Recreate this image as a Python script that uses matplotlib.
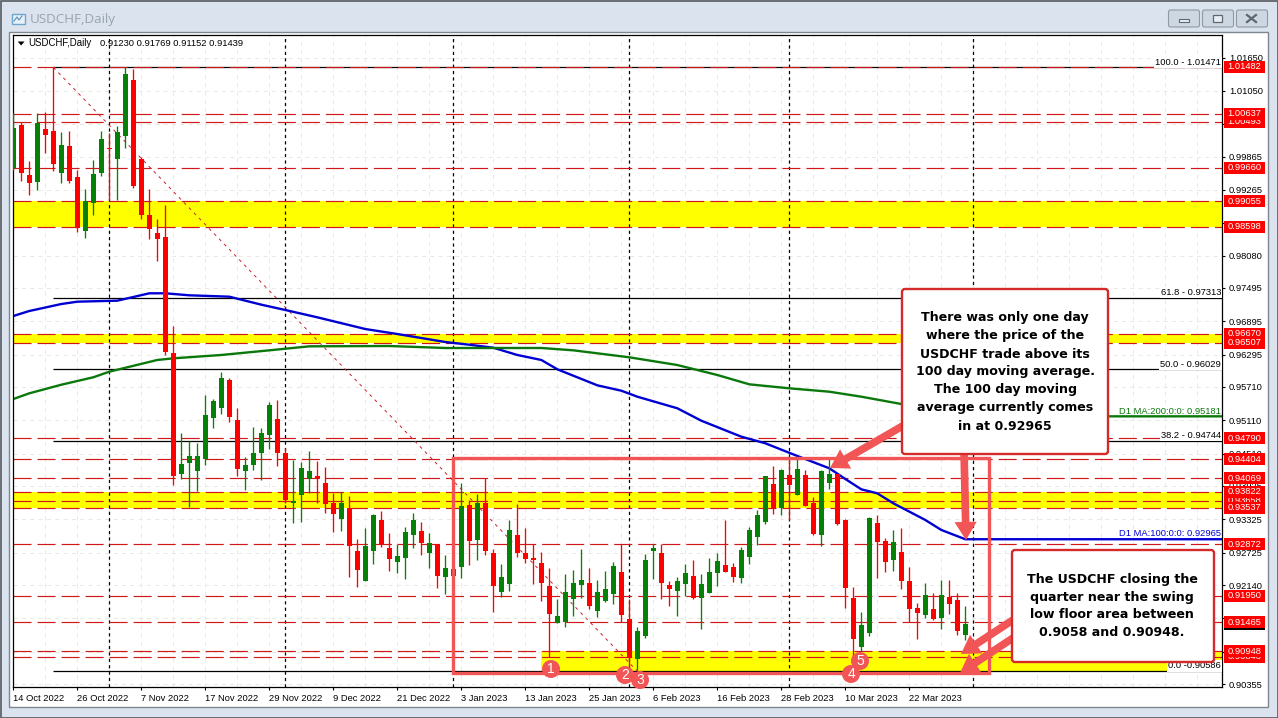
import matplotlib
matplotlib.use("Agg")
import numpy as np
import matplotlib.pyplot as plt
from matplotlib.patches import Rectangle, FancyBboxPatch, FancyArrowPatch, Circle, Polygon

plt.rcParams["font.family"] = "Liberation Sans"
plt.rcParams["lines.scale_dashes"] = False

# candles, prices in points (1e-5)
opens = [99658,100433,99532,99406,100361,100325,99568,100055,99496,98522,99027,99568,100019,99820,100235,101245,99820,98811,98486,98414,
         96323,94141,94340,94195,94412,95151,95331,95836,95115,94195,94304,94520,94844,95133,94520,93618,93763,94051,94105,93979,
         93618,93330,93528,92753,92212,92753,93312,92807,92555,92627,93041,93114,92717,92879,92284,92302,92465,93582,92951,93618,
         92717,92014,92158,93041,92717,92627,92537,92122,91455,91473,91888,92140,92176,91671,91852,91978,92374,91527,90806,91221,
         92753,92717,92140,92032,92158,92302,91906,91996,92356,92501,92465,92266,92645,93005,93276,93961,93528,94123,93763,94123,
         93618,93041,93979,94141,93312,91906,91022,91275,93258,92933,92591,92735,92212,91725,91599,91707,91545,91924,91870,91230]
highs = [100650,100487,99784,100650,100668,101479,100307,100325,99622,99280,99802,100325,100289,100415,101479,101443,99856,99280,98739,98991,
         96810,94880,94736,94700,95566,95493,95980,95872,95331,94448,94989,94971,95439,95475,94610,94394,94358,94556,94376,94267,
         93799,93817,93745,92969,93168,93420,93474,93078,92879,93186,93438,93276,93078,92879,92681,92447,93979,93672,93781,94069,
         92789,92519,93312,93600,93168,92879,92735,92447,91888,92338,92410,92789,92447,92230,92392,92555,92879,91888,91383,92699,
         92879,92879,92212,92284,92519,92591,92338,92627,92717,93312,92537,92825,93186,93492,94105,94286,94231,94412,94448,94213,
         93727,94213,94412,94141,93330,92104,91653,93366,93402,92987,93132,93168,92465,91816,92176,91996,92230,92230,91996,91769]
lows = [99622,99424,99171,99261,99929,99604,99388,99388,98504,98396,98811,99514,99081,99081,100019,99298,98739,98378,97981,96287,
        93943,94051,93546,93835,94304,94971,95223,95079,94105,93853,94213,94033,94592,94286,93618,93258,93276,93799,93618,93438,
        93096,93114,92284,92104,92212,92519,92825,92392,92356,92248,92807,92681,92447,92086,91978,92302,92266,92501,92591,92681,
        91653,91924,92032,92645,92537,92158,91852,90842,91455,91383,91581,91906,91707,91563,91834,91798,91473,90662,90608,91184,
        92248,91888,91761,91581,91942,91888,91347,91996,92122,92374,92194,92176,92519,92861,93240,93420,93402,93312,93763,93564,
        93041,92843,93871,93222,91725,90842,90950,91221,92266,92374,92392,92068,91473,91166,91545,91509,91347,91617,91239,91152]
closes = [100379,99568,99388,100469,100253,99730,100073,99424,98576,99063,99550,100181,100001,100307,101353,99334,98811,98558,98378,96341,
          94105,94322,94466,94466,95205,95457,95872,95169,94231,94304,94520,94880,95385,94520,93672,93654,94249,94195,94069,93600,
          93420,93618,92843,92410,92843,93402,92879,92609,92663,93096,93312,92897,92897,92302,92447,92429,93564,92933,93618,92753,
          92122,92284,93132,92717,92609,92591,92176,91617,91581,92014,92176,92230,91761,92014,92068,92483,91599,90824,91311,92591,
          92807,92176,92068,92212,92356,91906,92158,92374,92573,92374,92284,92771,93132,93402,94105,93528,94213,93943,94231,93564,
          93059,94195,94141,93240,92086,91166,91419,93348,92915,92555,92915,92212,91707,91635,91960,91527,91960,91798,91311,91439]

ma100_bars = [0,2,6,8,13,17,19,22,27,31,34,38,44,48,54,57,60,63,66,68,73,76,78,83,86,91,94,98,102,104,106,108,110,114,116,119]
ma100_vals = [96990,97080,97206,97248,97266,97399,97399,97363,97338,97194,97098,96966,96755,96665,96521,96472,96418,96287,96197,96029,
              95740,95643,95535,95326,95102,94814,94695,94466,94244,94051,93865,93793,93613,93312,93132,92965]
ma200_bars = [0,2,6,10,12,18,20,26,32,37,47,54,66,70,77,83,88,92,97,102,106,111,119]
ma200_vals = [95493,95596,95751,95885,95986,96197,96227,96287,96371,96443,96449,96413,96413,96371,96245,96106,95926,95758,95686,95625,95535,95403,95181]

levels = [1.01482,1.00493,1.00637,0.99660,0.99055,0.98598,0.96670,0.96507,0.94790,0.94404,0.94069,0.93658,0.93822,0.93537,
          0.92872,0.91950,0.91465,0.90846,0.90948]
bands = [(0.98598,0.99055,0),(0.96507,0.96670,0),(0.93537,0.93822,0),(0.90586,0.90948,66)]
fib_prices = [1.01471,0.97313,0.96029,0.94744,0.90586]
fib_labels = ["100.0 - 1.01471","61.8 - 0.97313","50.0 - 0.96029","38.2 - 0.94744","0.0 -0.90586"]
y_ticks = [1.01650,1.01050,1.00450,0.99865,0.99265,0.98665,0.98080,0.97495,0.96895,0.96295,0.95710,0.95110,0.94510,0.93925,0.93325,
           0.92725,0.92140,0.91540,0.90940,0.90355]
date_labels = ["14 Oct 2022","26 Oct 2022","7 Nov 2022","17 Nov 2022","29 Nov 2022","9 Dec 2022","21 Dec 2022","3 Jan 2023",
               "13 Jan 2023","25 Jan 2023","6 Feb 2023","16 Feb 2023","28 Feb 2023","10 Mar 2023","22 Mar 2023"]
month_bars = [12,34,55,77,97,120]

o = np.array(opens) / 1e5
h = np.array(highs) / 1e5
l = np.array(lows) / 1e5
c = np.array(closes) / 1e5
x = np.arange(len(o))

RED = "#ff0000"
GREEN = "#068006"
DASHRED = "#d01818"
SALMON = "#f25555"
BOXRED = "#d42a2a"
FS = 6.75

fig = plt.figure(figsize=(12.78, 7.18), dpi=100)
fig.patch.set_facecolor("white")

# window frame drawn in pixel coordinates
bg = fig.add_axes([0, 0, 1, 1], zorder=0)
bg.set_xlim(0, 1278)
bg.set_ylim(718, 0)
bg.axis("off")
bg.add_patch(Rectangle((0, 0), 1278, 718, fc="#dbe4ee", ec="none"))
grad = np.linspace(0, 1, 32).reshape(-1, 1)
bg.imshow(grad, extent=(0, 1278, 33, 0), cmap=matplotlib.colors.LinearSegmentedColormap.from_list("t", ["#c8d4e0", "#e4ebf3"]), aspect="auto")
bg.set_xlim(0, 1278)
bg.set_ylim(718, 0)
bg.add_patch(Rectangle((8.5, 32), 1259, 675, fc="white", ec="#7e8790", lw=1))
bg.add_patch(Rectangle((0.5, 0.5), 1277, 717, fc="none", ec="#555b60", lw=1.2))
bg.add_patch(Rectangle((11.5, 14), 13, 10, fc="#e8f0f8", ec="#6fa4cc", lw=1))
bg.plot([14, 17, 19, 22], [21, 17, 20, 16], color="#5a8fb8", lw=0.8)
bg.text(30, 20, "USDCHF,Daily", fontsize=9.6, family="Open Sans", color="#98a4b0", va="center")
for left in [1168.5, 1202.5, 1236.5]:
    bg.add_patch(FancyBboxPatch((left + 2, 12), 27, 13, boxstyle="round,pad=2", fc="#ccd7e2", ec="#8f9aa5", lw=0.8))
bg.add_patch(Rectangle((1179, 19), 10, 3, fc="#e8eef4", ec="#5d6770", lw=0.8))
bg.add_patch(Rectangle((1212.5, 15), 9, 7, fc="#e8eef4", ec="#5d6770", lw=0.9))
bg.plot([1247, 1256], [15, 22], color="#5d6770", lw=1.6)
bg.plot([1247, 1256], [22, 15], color="#5d6770", lw=1.6)

ax = fig.add_axes([12.5 / 1278, 1 - 687 / 718, 1209.5 / 1278, 652 / 718], zorder=1)
ax.set_xlim((12.5 - 13.33) / 8, (1222 - 13.33) / 8)
ax.set_ylim(1.02687 - 0.00018029 * 687, 1.02687 - 0.00018029 * 35)
for s in ax.spines.values():
    s.set_linewidth(0.9)

ax.set_yticks(y_ticks)
ax.set_yticklabels(["%.5f" % t for t in y_ticks])
ax.yaxis.tick_right()
ax.tick_params(axis="y", length=2.4, width=0.8, pad=2.5, labelsize=FS)
ax.set_xticks(np.arange(0, 120, 8))
ax.set_xticklabels(date_labels, ha="left")
ax.set_xticks(np.arange(0, 152, 4), minor=True)
ax.tick_params(axis="x", which="major", length=2.4, width=0.8, pad=2.5, labelsize=FS)
ax.tick_params(axis="x", which="minor", length=0)
ax.grid(True, which="both", color="#e9e9e4", lw=0.7, ls=(0, (3, 3)))
ax.set_axisbelow(True)

for low, top_p, start in bands:
    ax.add_patch(Rectangle((start, low), 160, top_p - low, fc="#ffff00", ec="none", zorder=1))
for m in month_bars:
    ax.axvline(m, color="black", lw=0.9, ls=(0, (2.3, 2.3)), zorder=1.5)
for p in fib_prices:
    ax.hlines(p, 5, 160, color="black", lw=0.9, zorder=1.8)
for lv in levels:
    ax.axhline(lv, color=DASHRED, lw=0.85, ls=(0, (13, 4.3)), zorder=2)
ax.plot([5, 78], [fib_prices[0], fib_prices[-1]], color="#c8202a", lw=0.7, ls=(0, (2.2, 3)), zorder=2.2)

ax.plot(ma100_bars + [160], [v / 1e5 for v in ma100_vals] + [ma100_vals[-1] / 1e5], color="#0000d2", lw=1.7, zorder=2.5)
ax.plot(ma200_bars + [160], [v / 1e5 for v in ma200_vals] + [ma200_vals[-1] / 1e5], color="#0b780b", lw=1.7, zorder=2.5)

up = c >= o
colors = np.where(up, GREEN, RED)
ax.vlines(x, l, h, colors=colors, lw=0.95, zorder=3)
ax.bar(x, np.abs(c - o), bottom=np.minimum(o, c), width=5 / 8, color=colors, lw=0, zorder=3.1)

trans = ax.get_yaxis_transform()
ax.text(0.0132, 1.02687 - 0.00018029 * 43.5, "USDCHF,Daily", transform=trans, fontsize=FS + 0.15, va="center", zorder=5)
ax.text(0.0720, 1.02687 - 0.00018029 * 43.5, "0.91230 0.91769 0.91152 0.91439", transform=trans, fontsize=FS, va="center", zorder=5)
ax.add_patch(Polygon([(0.0043, 1.02687 - 0.00018029 * 41.5), (0.0100, 1.02687 - 0.00018029 * 41.5), (0.0071, 1.02687 - 0.00018029 * 45.5)],
                     transform=trans, fc="black", ec="none", zorder=5))

# labels for fib and MA lines
for p, lab in zip(fib_prices, fib_labels):
    ax.text(0.9992, p + 0.00095, lab, transform=trans, fontsize=FS, ha="right", va="center", zorder=4,
            bbox=dict(fc="white", ec="none", pad=0.8))
ax.text(0.9992, ma100_vals[-1] / 1e5 + 0.00095, "D1 MA:100:0:0: 0.92965", transform=trans, fontsize=FS, color="#0000d2", ha="right", va="center", zorder=4)
ax.text(0.9992, ma200_vals[-1] / 1e5 + 0.00095, "D1 MA:200:0:0: 0.95181", transform=trans, fontsize=FS, color="#0b780b", ha="right", va="center", zorder=4)

# price labels on the right
def price_box(price, face):
    ax.add_patch(Rectangle((1.0018, price - 0.00108), 0.0338, 0.00216, transform=trans, fc=face, ec="none", clip_on=False, zorder=6))
    ax.text(1.0187, price, "%.5f" % price, transform=trans, fontsize=FS, color="white", ha="center", va="center", clip_on=False, zorder=6)

price_box(closes[-1] / 1e5, "black")
for lv in levels:
    price_box(lv, RED)

# marker drawing on top of the chart
top = fig.add_axes([0, 0, 1, 1], zorder=2)
top.set_xlim(0, 1278)
top.set_ylim(718, 0)
top.axis("off")
top.patch.set_alpha(0)

top.add_patch(Rectangle((453, 458), 536, 214.5, fc="none", ec=SALMON, lw=2.4))
for tail, tip in [((906, 424), (830, 468)), ((964, 450), (966, 540)), ((1016, 618), (961, 654)), ((1016, 636), (960, 673))]:
    top.add_patch(FancyArrowPatch(tail, tip, arrowstyle="simple,head_length=13,head_width=16,tail_width=5.5", mutation_scale=1,
                                  shrinkA=0, shrinkB=0, fc=SALMON, ec="none", zorder=3))

for cx, cy, num in [(551, 669, "1"), (625, 675, "2"), (640, 680, "3"), (851, 674, "4"), (860, 661, "5")]:
    top.add_patch(Circle((cx, cy), 9, fc=SALMON, ec="none", zorder=4))
    top.text(cx, cy, num, color="white", fontsize=10, ha="center", va="center", zorder=5)

top.add_patch(FancyBboxPatch((905, 292), 200, 159, boxstyle="round,pad=3", fc="white", ec=BOXRED, lw=1.7, zorder=6))
note1 = ["There was only one day", "where the price of the", "USDCHF trade above its", "100 day moving average.",
         "The 100 day moving", "average currently comes", "in at 0.92965"]
for i, line in enumerate(note1):
    top.text(1005, 318 + i * 18, line, family="DejaVu Sans", weight="bold", fontsize=9.05, ha="center", va="center", zorder=7)

top.add_patch(FancyBboxPatch((1015, 553), 196, 106, boxstyle="round,pad=3", fc="white", ec=BOXRED, lw=1.7, zorder=6))
note2 = ["The USDCHF closing the", "quarter near the swing", "low floor area between", "0.9058 and 0.90948."]
for i, line in enumerate(note2):
    top.text(1112, 579 + i * 18, line, family="DejaVu Sans", weight="bold", fontsize=9.05, ha="center", va="center", zorder=7)

fig.savefig("out.png", dpi=100)
